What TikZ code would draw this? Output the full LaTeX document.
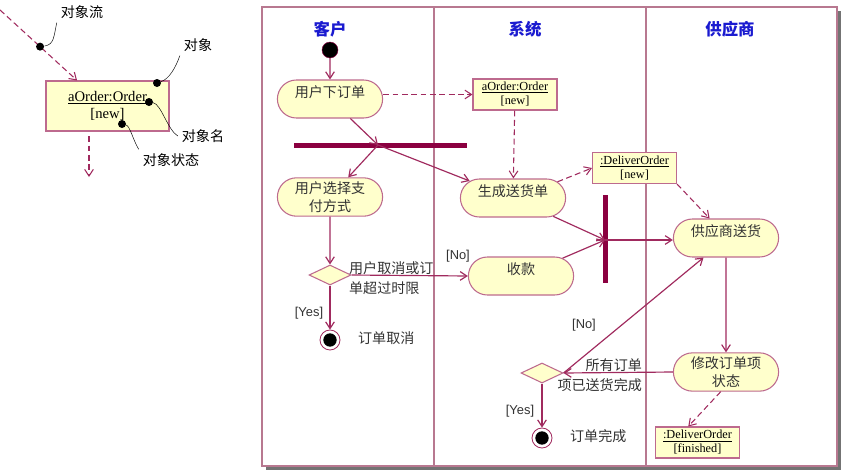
\documentclass[tikz,border=0pt]{standalone}
\usepackage{fontspec}
\setmainfont{Liberation Serif}
\newfontfamily\cjk{Noto Sans CJK SC}
\newfontfamily\arialf{Liberation Sans}
\usepackage{xcolor}
\usepackage{tikz}
\usetikzlibrary{positioning,arrows.meta,shapes.geometric,shapes.misc}
\definecolor{plum}{HTML}{A02A5E}
\definecolor{rim}{HTML}{B87890}
\definecolor{cream}{HTML}{FFFFCC}
\definecolor{barred}{HTML}{8B0040}
\definecolor{royal}{HTML}{1A1AD0}

\begin{document}
\begin{tikzpicture}[
  x=0.03cm, y=-0.03cm,
  act/.style={rounded rectangle, draw=plum!70, fill=cream, line width=0.9pt, minimum width=3.39cm, minimum height=1.14cm, align=center, font=\cjk\fontsize{12}{15}\selectfont, text=black!80},
  hightext/.style={text depth=0.42cm},
  obj/.style={rectangle, draw=plum!70, fill=cream, line width=0.9pt, minimum width=2.52cm, minimum height=0.93cm, align=center, inner sep=1pt, font=\fontsize{10.5}{12}\selectfont},
  dia/.style={diamond, draw=plum!70, fill=cream, line width=0.9pt, minimum width=1.26cm, minimum height=0.6cm, inner sep=0pt},
  startdot/.style={circle, fill=black, draw=barred, minimum size=0.48cm, inner sep=0pt},
  fin/.style={circle, draw=plum, fill=white, line width=0.7pt, minimum size=0.6cm, inner sep=0pt, path picture={\fill[black] (path picture bounding box.center) circle (0.2cm);}},
  sync/.style={fill=barred, inner sep=0pt},
  blob/.style={circle, fill=black, minimum size=0.24cm, inner sep=0pt},
  flow/.style={draw=plum, line width=1pt, -{Straight Barb[length=2mm,width=2.6mm]}},
  objflow/.style={flow, line width=0.9pt, dash pattern=on 5pt off 3pt},
  lbl/.style={font=\cjk\fontsize{12}{17}\selectfont, text=black!80},
  guard/.style={font=\arialf\fontsize{11}{13}\selectfont, text=black!80},
  head/.style={font=\cjk\bfseries\fontsize{14}{16}\selectfont, text=royal}
]
\useasboundingbox (0,0) rectangle (842,472);
\fill[white] (0,0) rectangle (842,472);

% legend
\node[obj, minimum width=3.69cm, minimum height=1.5cm, font=\fontsize{12.5}{15}\selectfont] (lo) at (107.5,106) {\underline{aOrder:Order}\\{}[new]};
\coordinate (lin) at (0,10);
\coordinate (lout) at (89,177);
\draw[objflow] (lin) -- node[blob, pos=0.52] (p1) {} (lo.140);
\draw[objflow, shorten <=4pt] (lo.south -| lout) -- (lout);
\node[blob] (q1) at (157,83) {};
\node[blob] (q2) at (149,102) {};
\node[blob] (q3) at (122,124) {};
\node[lbl, text=black] (l1) at (82,12) {对象流};
\node[lbl, text=black] (l2) at (198,45) {对象};
\node[lbl, text=black] (l3) at (203,136) {对象名};
\node[lbl, text=black] (l4) at (171,160) {对象状态};
\draw (p1) .. controls +(14,-2) and +(-3,14) .. (l1.south west);
\draw (q1) .. controls +(12,-4) and +(-4,12) .. (l2.south west);
\draw (q2) .. controls +(12,2) and +(-10,-6) .. (l3.west);
\draw (q3) .. controls +(8,2) and +(-6,-10) .. (l4.north west);

% swimlanes
\fill[black!55] (266,11) rectangle (841,470);
\draw[rim, line width=0.9pt, fill=white] (262,7) rectangle (837,466);
\foreach \x in {434,646}
  \draw[rim, line width=0.9pt] (\x,7) -- (\x,466);
\node[head] (h1) at (330,29) {客户};
\node[head] (h2) at (525,29) {系统};
\node[head] (h3) at (730,29) {供应商};

% activities
\node[startdot] (s0) at (330,50) {};
\node[act, hightext] (a1) at (330,99) {用户下订单};
\node[act] (a2) at (330,197) {用户选择支\\付方式};
\node[act, hightext] (a3) at (513,198) {生成送货单};
\node[act, hightext] (a4) at (521,276) {收款};
\node[act, hightext] (a5) at (726,238) {供应商送货};
\node[act] (a6) at (726,372) {修改订单项\\状态};

% objects
\node[obj] (o1) at (515,94.5) {\underline{aOrder:Order}\\{}[new]};
\node[obj] (o2) at (634.5,168) {\underline{:DeliverOrder}\\{}[new]};
\node[obj] (o3) at (697.5,442.5) {\underline{:DeliverOrder}\\{}[finished]};

% fork, join, decisions, ends
\node[sync, minimum width=5.19cm, minimum height=0.15cm] (f1) at (380.5,145) {};
\node[sync, minimum width=0.15cm, minimum height=2.64cm] (f2) at (605,239) {};
\coordinate (f1c) at (378,145);
\coordinate (f2c) at (605,240);
\node[dia] (d1) at (330,275) {};
\node[dia] (d2) at (542,373) {};
\node[fin] (e1) at (330,340) {};
\node[fin] (e2) at (542,438) {};

% texts
\node[lbl, anchor=west, align=left] (t1) at (345,278) {用户取消或订\\单超过时限};
\node[lbl, anchor=west] (t2) at (354,338) {订单取消};
\node[lbl, anchor=east, align=right] (t3) at (646,375) {所有订单\\项已送货完成};
\node[lbl, anchor=west] (t4) at (566,436) {订单完成};
\node[guard] (g1) at (458,256) {[No]};
\node[guard] (g2) at (309,313) {[Yes]};
\node[guard] (g3) at (584,325) {[No]};
\node[guard] (g4) at (520,411) {[Yes]};

% control flows
\foreach \a/\b in {s0/a1, a2/d1, d1/e1, a5/a6, d2/e2}
  \draw[flow] (\a) -- (\b);
\draw[flow] (a1) -- (f1c);
\draw[flow] (f1c) -- (a2);
\draw[flow] (f1c) -- (a3);
\draw[flow] (a3) -- (f2c);
\draw[flow] (a4) -- (f2c);
\draw[flow] (f2c) -- (f2c -| a5.west);
\draw[flow] (d1.east) -- (a4.west);
\draw[flow] (a6.west) -- (d2.east);
\draw[flow] (d2.east) -- (a5.221);

% object flows
\draw[objflow] (a1.east |- o1.west) -- (o1.west);
\draw[objflow] (o1) -- (a3);
\draw[objflow] (a3.20) -- (o2.west);
\draw[objflow] (o2.south east) -- (a5.130);
\draw[objflow] (a6.255) -- (o3.120);
\end{tikzpicture}
\end{document}
